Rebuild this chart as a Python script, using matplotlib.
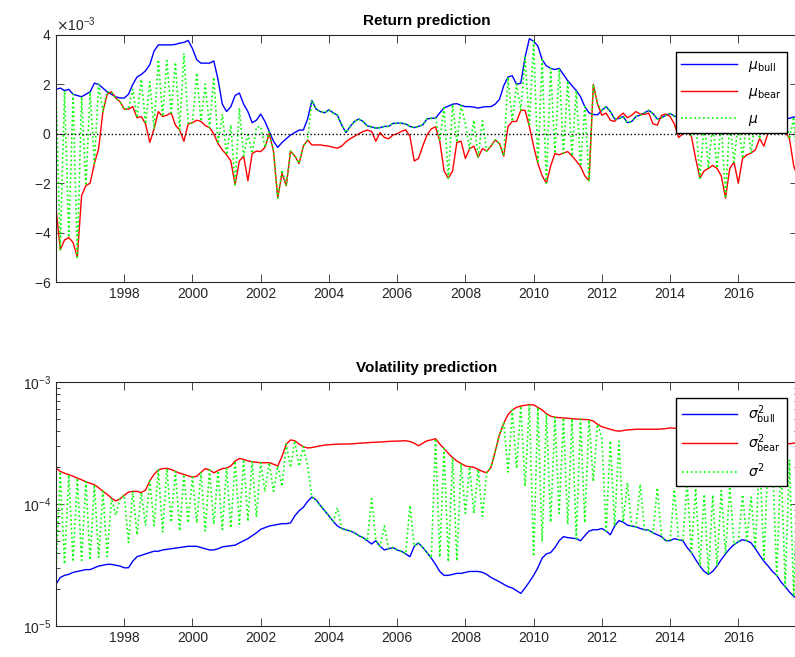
import numpy as np
import matplotlib.pyplot as plt
from matplotlib.ticker import ScalarFormatter

# values, one row per year, 8 samples per year (1996.0 ... 2017.75)
# returns in units of 1e-3
mu_bull = [
    1.8, 1.85, 1.75, 1.8, 1.6, 1.55, 1.5, 1.6,          # 1996
    1.7, 2.05, 2.0, 1.85, 1.7, 1.6, 1.5, 1.45,          # 1997
    1.45, 1.6, 2.0, 2.3, 2.4, 2.55, 2.8, 3.35,          # 1998
    3.6, 3.6, 3.6, 3.6, 3.62, 3.67, 3.7, 3.78,          # 1999
    3.45, 3.0, 2.86, 2.86, 2.86, 2.95, 2.2, 1.2,        # 2000
    0.9, 1.1, 1.55, 1.65, 1.2, 0.9, 0.45, 0.55,         # 2001
    0.8, 0.5, 0.1, -0.3, -0.55, -0.35, -0.2, -0.05,     # 2002
    0.05, 0.15, 0.15, 0.6, 1.35, 1.0, 0.9, 0.85,        # 2003
    0.97, 0.85, 0.75, 0.35, 0.05, 0.3, 0.5, 0.6,        # 2004
    0.5, 0.32, 0.28, 0.23, 0.25, 0.3, 0.3, 0.42,        # 2005
    0.43, 0.43, 0.4, 0.3, 0.25, 0.3, 0.36, 0.6,         # 2006
    0.63, 0.63, 0.85, 1.05, 1.12, 1.2, 1.22, 1.15,      # 2007
    1.1, 1.1, 1.08, 1.04, 1.08, 1.1, 1.1, 1.2,          # 2008
    1.4, 1.95, 2.3, 2.35, 2.0, 2.05, 3.1, 3.85,         # 2009
    3.75, 3.55, 3.0, 2.75, 2.65, 2.6, 2.65, 2.4,        # 2010
    2.15, 1.95, 1.75, 1.5, 1.1, 0.85, 0.78, 0.77,       # 2011
    0.95, 1.1, 0.9, 0.6, 0.62, 0.7, 0.45, 0.5,          # 2012
    0.7, 0.75, 0.85, 0.95, 0.82, 0.6, 0.65, 0.75,       # 2013
    0.82, 0.72, 0.65, 0.63, 0.6, 0.55, 0.55, 0.5,       # 2014
    0.5, 0.45, 0.45, 0.5, 0.5, 0.45, 0.5, 0.55,         # 2015
    0.55, 0.6, 0.6, 0.55, 0.6, 0.65, 0.6, 0.6,          # 2016
    0.6, 0.6, 0.65, 0.6, 0.63, 0.68, 0.7]               # 2017

mu_bear = [
    -3.0, -4.7, -4.3, -4.2, -4.4, -5.0, -2.5, -2.1,     # 1996
    -2.0, -1.2, -0.6, 0.9, 1.6, 1.7, 1.45, 1.3,         # 1997
    1.0, 1.0, 1.1, 0.65, 0.7, 0.4, -0.35, 0.2,          # 1998
    0.9, 0.7, 0.75, 0.85, 0.35, 0.15, -0.3, 0.4,        # 1999
    0.45, 0.55, 0.5, 0.33, 0.25, 0.0, -0.4, -0.65,      # 2000
    -0.85, -1.1, -2.06, -1.1, -0.9, -1.9, -0.8, -0.7,   # 2001
    -0.72, -0.55, 0.0, -0.7, -2.6, -1.6, -2.1, -0.7,    # 2002
    -0.9, -1.2, -0.5, -0.25, -0.45, -0.45, -0.45, -0.48, # 2003
    -0.5, -0.55, -0.58, -0.5, -0.32, -0.2, -0.1, 0.0,   # 2004
    0.09, 0.15, 0.1, -0.3, 0.05, -0.15, -0.2, -0.05,    # 2005
    0.0, 0.1, 0.16, -0.1, -1.1, -1.0, -0.5, -0.05,      # 2006
    0.2, 0.28, -0.3, -1.5, -1.8, -1.5, -0.35, -0.3,     # 2007
    -1.0, -0.6, -0.5, -0.95, -0.6, -0.7, -0.5, -0.25,   # 2008
    -0.4, -0.9, 0.3, 0.5, 0.5, 0.95, 0.95, 0.3,         # 2009
    -0.5, -1.2, -1.7, -2.0, -1.3, -0.8, -0.85, -0.78,   # 2010
    -0.72, -0.9, -1.1, -1.32, -1.7, -1.9, 2.0, 1.2,     # 2011
    0.75, 0.84, 0.55, 0.5, 0.7, 0.84, 0.65, 0.75,       # 2012
    0.9, 0.8, 0.78, 0.84, 0.4, 0.35, 0.75, 0.8,         # 2013
    0.7, 0.4, -0.15, 0.0, 0.08, -0.1, -1.0, -1.8,       # 2014
    -1.5, -1.4, -1.28, -1.4, -1.7, -2.6, -1.4, -1.15,   # 2015
    -2.0, -1.0, -0.85, -0.78, -0.65, -0.2, -0.5, 0.05,  # 2016
    0.03, 0.12, 0.16, 0.1, -0.2, -1.3, -1.8]            # 2017

# variances in units of 1e-4
s2_bull = [
    0.22, 0.25, 0.26, 0.265, 0.275, 0.28, 0.285, 0.29,  # 1996
    0.29, 0.30, 0.31, 0.315, 0.32, 0.32, 0.315, 0.31,   # 1997
    0.30, 0.30, 0.34, 0.37, 0.38, 0.39, 0.40, 0.41,     # 1998
    0.41, 0.42, 0.425, 0.43, 0.435, 0.44, 0.445, 0.45,  # 1999
    0.45, 0.45, 0.44, 0.43, 0.42, 0.42, 0.43, 0.445,    # 2000
    0.45, 0.455, 0.46, 0.48, 0.50, 0.52, 0.55, 0.58,    # 2001
    0.62, 0.64, 0.66, 0.67, 0.68, 0.69, 0.69, 0.70,     # 2002
    0.80, 0.88, 0.94, 1.05, 1.14, 1.08, 0.97, 0.88,     # 2003
    0.80, 0.72, 0.66, 0.63, 0.615, 0.60, 0.58, 0.55,    # 2004
    0.53, 0.50, 0.47, 0.50, 0.45, 0.42, 0.43, 0.44,     # 2005
    0.42, 0.41, 0.39, 0.37, 0.45, 0.48, 0.44, 0.40,     # 2006
    0.36, 0.32, 0.28, 0.26, 0.26, 0.265, 0.27, 0.27,    # 2007
    0.275, 0.28, 0.28, 0.28, 0.275, 0.265, 0.25, 0.24,  # 2008
    0.23, 0.22, 0.21, 0.205, 0.195, 0.185, 0.205, 0.23, # 2009
    0.26, 0.30, 0.36, 0.39, 0.40, 0.44, 0.50, 0.54,     # 2010
    0.53, 0.525, 0.52, 0.50, 0.55, 0.60, 0.615, 0.615,  # 2011
    0.63, 0.60, 0.56, 0.66, 0.73, 0.71, 0.67, 0.66,     # 2012
    0.65, 0.63, 0.615, 0.61, 0.58, 0.56, 0.54, 0.50,    # 2013
    0.50, 0.52, 0.51, 0.50, 0.44, 0.40, 0.35, 0.31,     # 2014
    0.28, 0.265, 0.28, 0.31, 0.35, 0.39, 0.43, 0.465,   # 2015
    0.49, 0.51, 0.50, 0.48, 0.43, 0.38, 0.34, 0.31,     # 2016
    0.28, 0.26, 0.23, 0.21, 0.19, 0.175, 0.165]         # 2017

s2_bear = [
    1.97, 1.85, 1.79, 1.74, 1.69, 1.63, 1.58, 1.52,     # 1996
    1.48, 1.44, 1.36, 1.27, 1.2, 1.12, 1.06, 1.1,       # 1997
    1.18, 1.25, 1.27, 1.27, 1.24, 1.3, 1.55, 1.75,      # 1998
    1.9, 1.95, 1.96, 1.92, 1.85, 1.79, 1.75, 1.70,      # 1999
    1.66, 1.69, 1.82, 1.95, 1.9, 1.8, 1.88, 1.95,       # 2000
    1.97, 2.05, 2.25, 2.36, 2.32, 2.26, 2.22, 2.2,      # 2001
    2.18, 2.18, 2.18, 2.12, 2.05, 2.45, 3.1, 3.35,      # 2002
    3.3, 3.1, 2.95, 2.88, 2.9, 2.95, 3.0, 3.04,         # 2003
    3.06, 3.08, 3.09, 3.1, 3.1, 3.11, 3.12, 3.15,       # 2004
    3.16, 3.18, 3.2, 3.21, 3.22, 3.24, 3.26, 3.27,      # 2005
    3.28, 3.29, 3.3, 3.25, 3.15, 3.0, 3.15, 3.3,        # 2006
    3.35, 3.43, 3.1, 2.85, 2.6, 2.4, 2.25, 2.15,        # 2007
    2.05, 2.02, 2.0, 1.92, 1.85, 1.8, 2.0, 2.7,         # 2008
    3.7, 4.6, 5.4, 5.9, 6.2, 6.35, 6.45, 6.5,           # 2009
    6.5, 6.2, 5.9, 5.5, 5.25, 5.15, 5.1, 5.08,          # 2010
    5.05, 5.0, 4.98, 4.95, 4.92, 4.9, 4.78, 4.5,        # 2011
    4.3, 4.2, 4.1, 4.0, 3.95, 4.0, 4.05, 4.07,          # 2012
    4.1, 4.1, 4.1, 4.1, 4.1, 4.1, 4.12, 4.15,           # 2013
    4.2, 4.18, 4.15, 4.1, 4.05, 4.0, 3.95, 3.9,         # 2014
    3.85, 3.8, 3.75, 3.7, 3.65, 3.6, 3.55, 3.5,         # 2015
    3.45, 3.42, 3.4, 3.35, 3.3, 3.28, 3.25, 3.2,        # 2016
    3.18, 3.15, 3.1, 3.1, 3.12, 3.15, 3.2]              # 2017

# where the green (mixed) curve sits between bear (0) and bull (9), one digit per sample
w_ret = ("90909090" "90909000" "00708070" "70707080" "07060707" "06070607"
         "60700100" "00009999" "99999999" "99999999" "99999999" "99090909"
         "60606000" "00909090" "90909090" "90909000" "99999999" "99999999"
         "99999090" "90909090" "90909090" "0909090")
w_vol = ("80808080" "80808020" "06060506" "07060706" "06070607" "07070707"
         "04040403" "03039999" "99799999" "99599799" "99959999" "90808080"
         "40404000" "00303040" "80807070" "80908050" "19191959" "95999599"
         "95994949" "49494949" "95959191" "1919191")

mu_bull = np.array(mu_bull) * 1e-3
mu_bear = np.array(mu_bear) * 1e-3
s2_bull = np.array(s2_bull) * 1e-4
s2_bear = np.array(s2_bear) * 1e-4
t = 1996 + np.arange(len(mu_bull)) / 8.0

wr = np.array([int(c) for c in w_ret]) / 9.0
wv = np.array([int(c) for c in w_vol]) / 9.0
mu_mix = wr * mu_bull + (1 - wr) * mu_bear
s2_mix = s2_bull**wv * s2_bear**(1 - wv)

plt.rcParams['font.family'] = ['Liberation Sans', 'DejaVu Sans']
plt.rcParams['axes.unicode_minus'] = False
dark = '#262626'
green = (0, 1, 0)

fig = plt.figure(figsize=(7.95, 6.57), dpi=100)
ax1 = fig.add_axes([56/795, 1 - 282/657, 742/795, 247/657])
ax2 = fig.add_axes([56/795, 1 - 626/657, 742/795, 244/657])

# return prediction
ax1.plot(t, mu_bull, color='b', lw=1, label=r'$\mu_{\rm bull}$')
ax1.plot(t, mu_bear, color='r', lw=1, label=r'$\mu_{\rm bear}$')
ax1.plot(t, mu_mix, color=green, ls=':', lw=1.2, label=r'$\mu$')
ax1.axhline(0, color='k', ls=':', lw=1)
ax1.set_ylim(-6e-3, 4e-3)
ax1.set_yticks(np.arange(-6, 5, 2) * 1e-3)
sf = ScalarFormatter(useMathText=True)
sf.set_powerlimits((0, 0))
ax1.yaxis.set_major_formatter(sf)
ax1.yaxis.get_offset_text().set_color('#808080')
ax1.set_title('Return prediction', fontweight='bold', fontsize=11, pad=7)
ax1.legend(loc='upper right', bbox_to_anchor=(0.985, 0.931), fancybox=False,
           edgecolor='k', framealpha=1, fontsize=10, handlelength=4,
           borderaxespad=0, labelspacing=0.8)

# volatility prediction
ax2.plot(t, s2_bull, color='b', lw=1, label=r'$\sigma^2_{\rm bull}$')
ax2.plot(t, s2_bear, color='r', lw=1, label=r'$\sigma^2_{\rm bear}$')
ax2.plot(t, s2_mix, color=green, ls=':', lw=1.2, label=r'$\sigma^2$')
ax2.set_yscale('log')
ax2.set_ylim(1e-5, 1e-3)
ax2.set_title('Volatility prediction', fontweight='bold', fontsize=11, pad=7)
ax2.legend(loc='upper right', bbox_to_anchor=(0.985, 0.934), fancybox=False,
           edgecolor='k', framealpha=1, fontsize=10, handlelength=4,
           borderaxespad=0, labelspacing=0.45)

for ax in (ax1, ax2):
    ax.set_xlim(1996, 2017.75)
    ax.set_xticks(range(1998, 2017, 2))
    ax.tick_params(which='both', direction='in', top=True, right=True,
                   labelsize=10, labelcolor=dark, color=dark, width=0.6)
    ax.tick_params(which='major', length=6)
    ax.tick_params(which='minor', length=3)
    for s in ax.spines.values():
        s.set_color(dark)
        s.set_linewidth(0.8)

fig.savefig('out.png', dpi=100)
